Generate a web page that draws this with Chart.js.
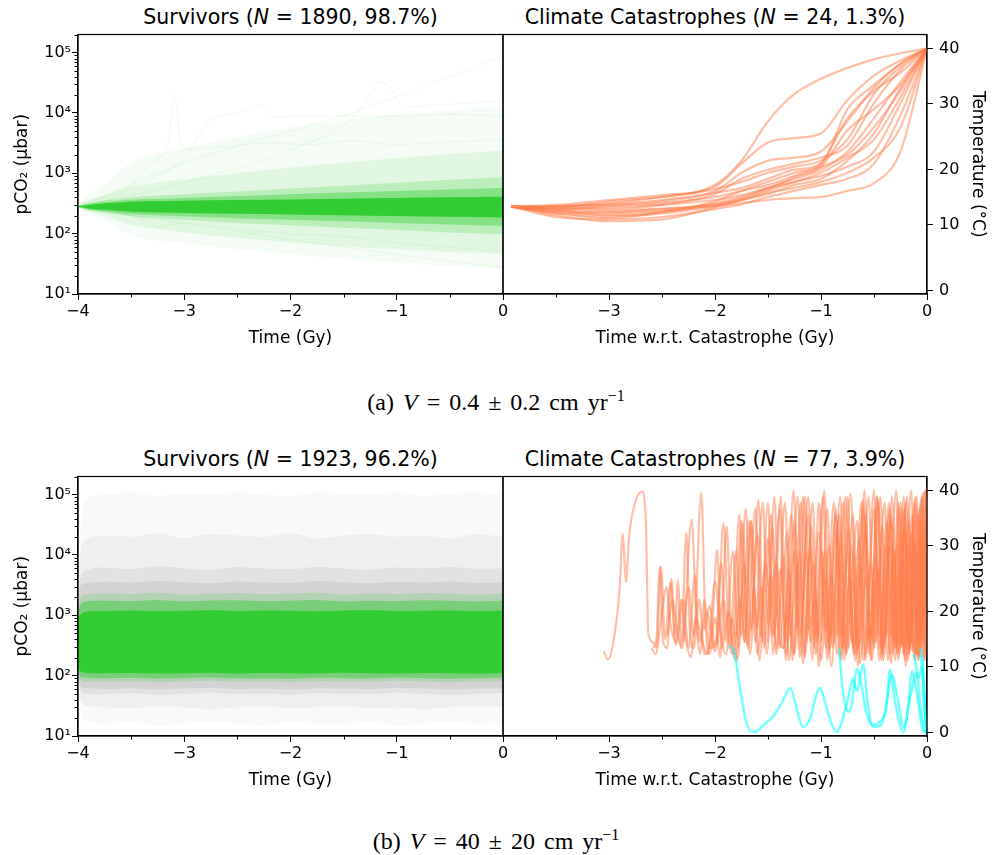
<!DOCTYPE html>
<html lang="en">
<head>
<meta charset="UTF-8">
<title>Survivors and climate catastrophes</title>
<script src="https://cdn.jsdelivr.net/npm/chart.js"></script>
<style>
  body { margin: 0; background: #fff; }
  #fig { position: relative; width: 992px; height: 855px; background: #fff; font-family: 'DejaVu Sans', sans-serif; color: #000; overflow: hidden; }
  #fig canvas { position: absolute; }
  .ttl { position: absolute; font-size: 20.5px; line-height: 24px; text-align: center; white-space: nowrap; }
  .cap { position: absolute; left: 0; width: 992px; text-align: center; font-family: 'Liberation Serif', serif; font-size: 24px; line-height: 28px; word-spacing: 3px; }
  .cap sup { font-size: 16px; }
</style>
</head>
<body>
<div id="fig">
  <div class="ttl" style="left:78px;width:425px;top:5px">Survivors (<i>N</i> = 1890, 98.7%)</div>
  <div class="ttl" style="left:503px;width:424px;top:5px">Climate Catastrophes (<i>N</i> = 24, 1.3%)</div>
  <canvas id="survA" width="515" height="360" style="left:0;top:0"></canvas>
  <canvas id="catA" width="497" height="360" style="left:495px;top:0"></canvas>
  <div class="cap" style="top:382px">(a) <i>V</i> = 0.4 ± 0.2 cm yr<sup>−1</sup></div>

  <div class="ttl" style="left:78px;width:425px;top:447px">Survivors (<i>N</i> = 1923, 96.2%)</div>
  <div class="ttl" style="left:503px;width:424px;top:447px">Climate Catastrophes (<i>N</i> = 77, 3.9%)</div>
  <canvas id="survB" width="515" height="360" style="left:0;top:442px"></canvas>
  <canvas id="catB" width="497" height="360" style="left:495px;top:442px"></canvas>
  <div class="cap" style="top:821px">(b) <i>V</i> = 40 ± 20 cm yr<sup>−1</sup></div>
</div>
<script>
// ---- axes ----
const xTicks = [-4, -3, -2, -1, 0];
const xMinor = [-3.5, -2.5, -1.5, -0.5];
const pTicks = [10, 100, 1000, 10000, 100000];
const pTickLabels = ['10¹', '10²', '10³', '10⁴', '10⁵'];
const tempTickPos = [0, 10.9, 20, 30.9, 40];
const tempTickLabels = ['0', '10', '20', '30', '40'];

// ---- (a) survivors: pCO2 envelope (µbar) ----
const tA = [-4, -3.9, -3.75, -3.5, -3, -2.5, -2, -1.5, -1, -0.5, 0];
const coreLoA = [278, 262, 248, 230, 220, 214, 208, 202, 196, 190, 185];
const coreHiA = [285, 300, 318, 338, 350, 360, 370, 380, 390, 400, 410];
const innerLoA = [277, 252, 235, 212, 195, 180, 170, 160, 150, 142, 135];
const innerHiA = [287, 310, 335, 365, 390, 420, 450, 480, 510, 540, 570];
const midLoA = [276, 245, 225, 195, 170, 150, 138, 125, 115, 105, 98];
const midHiA = [288, 320, 355, 400, 450, 500, 560, 620, 700, 780, 860];
const faintLoA = [274, 230, 200, 140, 105, 85, 72, 62, 55, 50, 46];
const faintHiA = [292, 360, 430, 600, 800, 1000, 1250, 1500, 1800, 2100, 2400];
const vfaintLoA = [272, 215, 170, 95, 70, 55, 46, 38, 33, 29, 26];
const vfaintHiA = [295, 450, 650, 1500, 2600, 4000, 5800, 7500, 9500, 11000, 13000];
// a few stray survivor runs
const stray1 = [-4, 280, -3.6, 450, -3.3, 1500, -3.15, 3500, -3.09, 21000, -3.03, 3000, -2.9, 2500, -2.6, 2800, -2.2, 3200, -1.8, 3000, -1.4, 3500, -1.0, 3000, -0.5, 3300, 0, 3600];
const stray2 = [-4, 280, -3.5, 600, -3, 1800, -2.76, 7500, -2.5, 10000, -2.29, 13500, -2.15, 8700, -1.5, 9000, -1, 8800, -0.5, 9500, 0, 9000];
const stray3 = [-4, 280, -3, 700, -2, 2500, -1.44, 7500, -1.3, 15000, -1.16, 33000, -1.05, 25000, -0.94, 12500, -0.5, 14000, 0, 16000];
const stray4 = [-4, 280, -3, 1500, -2, 5000, -1.5, 9000, -1.03, 18000, -0.5, 40000, 0, 87000];
const stray5 = [-4, 280, -3.5, 200, -3, 150, -2.5, 110, -2, 80, -1.5, 60, -1, 45, -0.5, 35, 0, 28];
const stray6 = [-4, 280, -3.4, 180, -3.25, 130, -3, 150, -2.5, 120, -2, 100, -1.5, 90, -1, 70, -0.5, 60, 0, 50];

// ---- (a) catastrophes: temperature (°C) ----
const tCat = [-3.92, -3.5, -3, -2.5, -2, -1.75, -1.5, -1.25, -1, -0.75, -0.5, -0.25, 0];
const hotA1 = [13.9, 14.0, 14.5, 15.5, 17.5, 21.5, 28.0, 32.5, 35.0, 36.8, 38.2, 39.2, 40];
const hotA2 = [13.9, 14.2, 15.0, 15.8, 17.2, 21.0, 24.5, 25.2, 26.0, 31.5, 35.5, 38.0, 40];
const hotA3 = [13.9, 13.6, 13.5, 14.2, 16.0, 18.5, 20.0, 21.0, 22.0, 24.0, 31.0, 36.5, 40];
const hotA4 = [13.9, 13.3, 12.5, 13.0, 14.8, 16.5, 18.0, 19.5, 21.0, 28.5, 33.0, 36.0, 40];
const hotA5 = [13.9, 12.5, 11.5, 11.8, 13.8, 15.0, 16.5, 18.0, 19.0, 20.5, 23.0, 31.0, 40];
const hotA6 = [13.9, 13.5, 14.0, 14.5, 15.5, 16.5, 17.5, 19.0, 20.5, 22.5, 27.0, 33.0, 40];
const hotA7 = [13.9, 13.2, 13.0, 13.5, 14.0, 14.5, 15.0, 15.3, 15.5, 16.5, 17.8, 23.0, 40];
const hotA8 = [13.9, 12.2, 11.8, 12.2, 13.5, 14.3, 15.5, 16.5, 17.5, 18.5, 21.0, 29.0, 40];
const hotA9 = [13.9, 13.8, 14.8, 15.5, 16.8, 18.0, 19.5, 20.5, 21.5, 25.0, 32.5, 37.0, 40];
const hotA10 = [13.9, 13.7, 13.8, 14.2, 15.0, 15.8, 17.0, 18.5, 20.0, 23.0, 28.5, 34.5, 40];
const hotA11 = [13.9, 12.8, 12.0, 13.0, 14.5, 15.5, 17.0, 18.0, 19.5, 22.0, 25.0, 32.0, 40];
const hotA12 = [13.9, 14.0, 14.3, 15.0, 16.2, 17.0, 18.5, 20.0, 21.0, 30.0, 34.0, 37.5, 40];
const hotA13 = [13.9, 13.4, 13.2, 13.6, 14.3, 15.0, 16.2, 17.0, 18.0, 19.5, 22.0, 27.0, 40];
const hotA14 = [13.9, 13.0, 12.8, 13.2, 14.2, 15.3, 16.8, 18.8, 20.5, 26.5, 30.0, 34.0, 40];
const hotA15 = [13.9, 13.9, 14.2, 14.8, 16.5, 19.5, 21.5, 22.0, 23.0, 28.0, 33.5, 37.5, 40];
const hotA16 = [13.9, 12.9, 12.3, 12.8, 14.0, 15.0, 16.0, 17.5, 18.5, 21.5, 26.0, 33.5, 40];

// ---- (b) survivors: pCO2 envelope (µbar) ----
const tB = [-4, -3.98, -3.93, -3.75, -3.5, -3.25, -3, -2.75, -2.5, -2.25, -2, -1.75, -1.5, -1.25, -1, -0.75, -0.5, -0.25, 0];
const greyFaintLo = [110, 30, 18, 16, 17, 15, 16, 17, 16, 15, 17, 16, 16, 17, 15, 16, 17, 16, 17];
const greyFaintHi = [1300, 15000, 80000, 100000, 110000, 95000, 105000, 100000, 110000, 100000, 95000, 110000, 105000, 100000, 110000, 95000, 105000, 110000, 100000];
const greyMidLo = [120, 45, 32, 30, 29, 31, 30, 28, 30, 31, 29, 30, 31, 29, 30, 28, 30, 31, 30];
const greyMidHi = [1200, 8000, 18000, 21000, 20000, 23000, 19000, 22000, 21000, 20000, 23000, 19000, 21000, 22000, 20000, 21000, 19000, 22000, 20000];
const greyDarkLo = [130, 60, 50, 49, 51, 48, 50, 52, 49, 50, 48, 51, 50, 49, 52, 50, 48, 50, 51];
const greyDarkHi = [1100, 4000, 5500, 6200, 5800, 6500, 6000, 5600, 6300, 6000, 5800, 6400, 6000, 5700, 6200, 6000, 6300, 5900, 6000];
const greyCoreLo = [135, 68, 62, 60, 62, 59, 61, 63, 60, 61, 59, 62, 61, 60, 63, 61, 59, 61, 62];
const greyCoreHi = [1050, 3000, 3400, 3600, 3500, 3700, 3500, 3400, 3650, 3500, 3450, 3700, 3500, 3400, 3600, 3500, 3650, 3450, 3500];
const greenFaintLo = [140, 85, 80, 79, 81, 78, 80, 82, 79, 80, 78, 81, 80, 79, 82, 80, 78, 80, 81];
const greenFaintHi = [1000, 1900, 2200, 2300, 2250, 2400, 2200, 2300, 2350, 2250, 2300, 2400, 2200, 2300, 2250, 2350, 2300, 2200, 2300];
const greenLightLo = [145, 98, 92, 90, 92, 89, 91, 93, 90, 91, 89, 92, 91, 90, 93, 91, 89, 91, 92];
const greenLightHi = [950, 1500, 1700, 1750, 1720, 1800, 1700, 1760, 1780, 1720, 1750, 1800, 1700, 1750, 1720, 1780, 1750, 1700, 1750];
const greenCoreLo = [150, 118, 112, 110, 111, 109, 110, 112, 108, 111, 110, 109, 112, 110, 109, 111, 110, 108, 111];
const greenCoreHi = [900, 1000, 1150, 1180, 1200, 1170, 1190, 1210, 1180, 1200, 1190, 1170, 1200, 1210, 1180, 1190, 1200, 1180, 1190];

// ---- (b) catastrophes: temperature (°C), pairs of [time, temp] ----
const coldB1 = [-1.86,14.4, -1.82,13.5, -1.77,8, -1.72,3, -1.67,0.3, -1.62,0.2, -1.55,1.2, -1.45,2.8, -1.37,5, -1.29,7.4, -1.23,4, -1.17,1, -1.1,2.5, -1.05,6, -1.01,7.5, -0.96,5, -0.9,1.5, -0.85,0.1, -0.8,2, -0.74,6, -0.7,9, -0.66,7, -0.6,11.3, -0.56,5, -0.51,1, -0.44,1.2, -0.38,5, -0.35,10.4, -0.3,5, -0.22,0.1, -0.18,4, -0.14,10.2, -0.1,7, -0.04,0.5, 0,0];
const coldB2 = [-0.83,14, -0.8,8, -0.77,4.5, -0.73,3.5, -0.7,6, -0.66,10.6, -0.62,8, -0.58,4, -0.52,1.3, -0.45,1.8, -0.4,3, -0.33,9.5, -0.28,6, -0.22,1, -0.15,6.5, -0.1,9.8, -0.06,4, -0.02,0.5, 0,0];
const coldB3 = [-0.12,13, -0.08,9, -0.05,11, -0.03,5, 0,0.2];
const coldB4 = [-0.07,14, -0.04,12, -0.02,4, 0,0.5];
const coldB5 = [-0.06,12.8, -0.03,8, -0.01,2, 0,0];

const hotB1 = [-3.05,13.5, -3.01,12.1, -2.96,14.9, -2.9,23.7, -2.87,32.9, -2.84,24.9, -2.81,32.5, -2.75,38.2, -2.69,39.8, -2.65,33.7, -2.63,16.6, -2.58,14.9, -2.55,14.1, -2.51,27.4, -2.47,15.4, -2.42,24.9, -2.37,14.5, -2.3,22, -2.25,14, -2.19,26, -2.15,15, -2.08,20, -2.0,13.5, -1.92,22, -1.86,14, -1.8,30, -1.75,16, -1.68,35, -1.62,15, -1.55,38, -1.5,18, -1.42,28, -1.36,14, -1.28,36, -1.22,17, -1.15,39, -1.1,15, -1.02,33, -0.95,14, -0.88,38, -0.82,16, -0.75,30, -0.68,13, -0.6,37, -0.54,15, -0.47,39, -0.41,14, -0.34,35, -0.28,13, -0.2,38, -0.15,15, -0.08,36, -0.04,20, 0,40];
const hotB2 = [-2.58,14, -2.55,16, -2.52,27.4, -2.49,15, -2.45,14, -2.41,25.5, -2.38,16, -2.35,25.2, -2.32,14, -2.27,33, -2.24,18, -2.2,14, -2.15,22, -2.1,13, -2.03,17, -1.98,30.2, -1.94,14, -1.87,20, -1.82,13, -1.75,35, -1.7,14.5, -1.62,37, -1.57,16, -1.5,32, -1.45,13, -1.38,39, -1.33,15, -1.25,30, -1.2,12.5, -1.12,36, -1.07,14, -0.98,39, -0.93,13, -0.85,34, -0.8,16, -0.72,39.5, -0.66,14, -0.58,33, -0.53,12, -0.46,38, -0.4,15, -0.33,39, -0.28,16, -0.21,34, -0.16,14, -0.1,39, -0.06,17, 0,40];
const hotB3 = [-2.45,16, -2.4,22, -2.36,17, -2.31,14, -2.22,35.2, -2.18,20, -2.14,13, -2.1,22, -2.05,14, -1.98,16, -1.92,34.6, -1.88,20, -1.84,13, -1.77,36, -1.72,15, -1.66,35, -1.6,13, -1.52,28, -1.46,16, -1.39,37, -1.33,13, -1.26,40, -1.2,16, -1.14,30, -1.08,12, -1.02,38, -0.96,17, -0.9,26, -0.85,13, -0.77,39, -0.71,15, -0.64,32, -0.58,13, -0.5,40, -0.45,14, -0.38,31, -0.32,13, -0.25,38, -0.19,15, -0.12,32, -0.07,13, 0,40];
const hotB4 = [-2.3,15, -2.25,24, -2.2,16, -2.13,39.6, -2.09,18, -2.05,13, -2.0,19, -1.95,12.5, -1.89,34, -1.85,17, -1.8,12, -1.74,34.6, -1.69,14, -1.63,24, -1.58,12, -1.5,38, -1.45,16, -1.38,27, -1.33,12, -1.25,35, -1.2,14, -1.12,39, -1.06,16, -0.99,30, -0.94,12, -0.86,36, -0.8,14, -0.73,25, -0.68,12, -0.6,38.5, -0.55,13, -0.48,30, -0.43,12, -0.35,37, -0.3,14, -0.23,29, -0.18,12, -0.11,39, -0.05,15, 0,39];
const hotB5 = [-2.1,17, -2.05,21, -2.0,14, -1.94,28, -1.9,15, -1.83,30, -1.78,14, -1.71,37, -1.66,17, -1.59,38.5, -1.54,14, -1.47,26, -1.42,13, -1.34,38, -1.29,16, -1.22,28, -1.17,11.5, -1.09,34, -1.04,15, -0.97,40, -0.91,16, -0.84,30, -0.78,12, -0.7,36, -0.65,14, -0.57,26, -0.52,12, -0.44,39, -0.39,16, -0.31,30, -0.26,13, -0.19,39, -0.13,14, -0.07,33, -0.03,18, 0,40];
const hotB6 = [-1.8,16, -1.76,22, -1.72,15, -1.66,35, -1.61,17, -1.56,24, -1.51,13, -1.44,39, -1.39,14, -1.32,33, -1.27,12, -1.19,38, -1.14,15, -1.07,28, -1.02,11, -0.94,37, -0.89,14, -0.82,39, -0.76,13, -0.69,30, -0.63,11.5, -0.55,39, -0.5,14, -0.42,34, -0.37,12, -0.29,40, -0.24,15, -0.17,35, -0.12,12, -0.06,38, 0,40];
const hotB8 = [-1.5,15, -1.46,34, -1.41,18, -1.35,14, -1.3,27, -1.25,13, -1.17,39, -1.12,17, -1.05,22, -1.0,12, -0.92,31, -0.87,15, -0.79,38, -0.74,14, -0.66,35, -0.6,12, -0.53,28, -0.48,15, -0.4,38, -0.35,13, -0.28,31, -0.22,13, -0.15,40, -0.1,17, -0.05,27, 0,40];
const hotB9 = [-1.35,16, -1.3,21, -1.26,13, -1.2,30, -1.15,12.5, -1.08,38, -1.03,16, -0.96,25, -0.9,11, -0.83,36, -0.78,14, -0.71,31, -0.66,13, -0.59,40, -0.53,16, -0.46,27, -0.41,12, -0.34,36, -0.29,14, -0.22,39, -0.17,13, -0.11,30, -0.06,14, 0,40];
const hotB11 = [-1.0,15, -0.96,30, -0.92,14, -0.86,22, -0.82,12.5, -0.75,39, -0.7,14, -0.63,28, -0.58,12, -0.5,37, -0.45,16, -0.39,26, -0.34,11.5, -0.27,38, -0.22,13, -0.16,30, -0.11,12, -0.05,39, -0.02,20, 0,40];
const hotB12 = [-0.85,16, -0.81,33, -0.77,13, -0.7,25, -0.65,11, -0.58,36, -0.53,14, -0.47,39, -0.42,13, -0.35,31, -0.3,12, -0.23,37, -0.18,15, -0.12,26, -0.08,12, -0.03,36, 0,40];
const hotB14 = [-0.5,15, -0.46,27, -0.42,13, -0.36,38, -0.31,14, -0.25,33, -0.2,11, -0.14,36, -0.1,13, -0.05,30, -0.02,14, 0,40];
const hotB15 = [-0.35,16, -0.31,30, -0.27,12, -0.21,34, -0.17,14, -0.12,38, -0.08,12, -0.04,32, -0.01,15, 0,40];
const hotB16 = [-0.25,14, -0.21,37, -0.17,13, -0.12,27, -0.08,14, -0.04,39, -0.02,12, 0,40];
const hotB17 = [-0.15,15, -0.12,32, -0.09,13, -0.06,35, -0.03,12, 0,40];
const hotB18 = [-2.6,14, -2.56,13, -2.5,20, -2.46,24, -2.42,18, -2.37,15, -2.32,22, -2.28,16, -2.23,12.5, -2.18,19, -2.12,15, -2.07,13, -2.0,25, -1.95,17, -1.9,13, -1.84,19, -1.79,12, -1.72,28, -1.67,13, -1.6,33, -1.55,15, -1.47,36, -1.42,14, -1.35,29, -1.3,12, -1.22,39, -1.16,13, -1.1,31, -1.05,13, -0.98,27, -0.93,15, -0.86,37, -0.81,12, -0.74,34, -0.69,13, -0.62,38, -0.57,15, -0.5,25, -0.45,12, -0.38,35, -0.33,16, -0.26,37, -0.21,12, -0.14,33, -0.09,17, -0.04,38, 0,40];
// saturated strip right before the catastrophe
const denseT = [-0.3, -0.2, -0.1, -0.05, 0];
const denseLo = [15, 14, 13, 12.5, 12.5];
const denseHi = [25, 30, 36, 38, 41];

// ---- helpers ----
const GREEN = '50,205,50';
const GREY = '128,128,128';
const CORAL_A = 'rgba(255,127,80,0.5)';
const CORAL_B = 'rgba(255,127,80,0.5)';
const CYAN = 'rgba(0,255,255,0.55)';

Chart.defaults.font.family = "'DejaVu Sans', sans-serif";
Chart.defaults.color = '#000';

function series(xs, ys) { return xs.map((x, i) => ({ x: x, y: ys[i] })); }
function pairs(flat) {
  const out = [];
  for (let i = 0; i < flat.length; i += 2) out.push({ x: flat[i], y: flat[i + 1] });
  return out;
}
function band(xs, lo, hi, color) {
  return [
    { data: series(xs, lo), borderColor: 'rgba(0,0,0,0)', fill: false },
    { data: series(xs, hi), borderColor: 'rgba(0,0,0,0)', fill: '-1', backgroundColor: color }
  ];
}
function line(data, color, width) {
  return { data: data, borderColor: color, borderWidth: width, fill: false };
}
function fmt(v) { return v < 0 ? '\u2212' + (-v) : String(v); }

const logMinor = [];
pTicks.forEach(d => { for (let k = 2; k <= 9; k++) if (k * d <= 2e5) logMinor.push(k * d); });

// border on all four sides + minor ticks
const framePlugin = {
  id: 'frame',
  afterDraw(chart, args, opts) {
    const { ctx, chartArea: a, scales } = chart;
    ctx.save();
    ctx.strokeStyle = '#000';
    ctx.lineWidth = 1;
    ctx.beginPath();
    (opts.xMinor || []).forEach(v => {
      const px = Math.round(scales.x.getPixelForValue(v)) + 0.5;
      ctx.moveTo(px, a.bottom); ctx.lineTo(px, a.bottom + 3.5);
    });
    (opts.yMinor || []).forEach(v => {
      const py = Math.round(scales.y.getPixelForValue(v)) + 0.5;
      ctx.moveTo(a.left - 3.5, py); ctx.lineTo(a.left, py);
    });
    ctx.stroke();
    ctx.lineWidth = 1.2;
    ctx.strokeRect(a.left, a.top, a.right - a.left, a.bottom - a.top);
    ctx.restore();
  }
};
Chart.register(framePlugin);

function xScale(title, hideFirst) {
  return {
    type: 'linear', min: -4, max: 0,
    afterBuildTicks: s => { s.ticks = xTicks.map(v => ({ value: v })); },
    ticks: { autoSkip: false, maxRotation: 0, padding: 2, font: { size: 16 },
      callback: v => (hideFirst && v === -4) ? '' : fmt(v) },
    grid: { drawOnChartArea: false, tickLength: 6, color: '#000', lineWidth: 1 },
    border: { color: '#000', width: 1.2 },
    title: { display: true, text: title, font: { size: 17 }, padding: { top: 0, bottom: 11 } },
    afterFit: s => { s.height = 66; }
  };
}

function baseOptions() {
  return {
    responsive: false, animation: false, events: [],
    elements: { point: { radius: 0 }, line: { cubicInterpolationMode: 'monotone' } },
    plugins: { legend: { display: false }, tooltip: { enabled: false } }
  };
}

function survivorChart(id, datasets) {
  const opts = baseOptions();
  opts.layout = { padding: { top: 34.5, right: 12, left: 0, bottom: 0 } };
  opts.plugins.frame = { xMinor: xMinor, yMinor: logMinor };
  opts.scales = {
    x: xScale('Time (Gy)', false),
    y: {
      type: 'logarithmic', min: 10, max: 2e5,
      afterBuildTicks: s => { s.ticks = pTicks.map(v => ({ value: v })); },
      ticks: { autoSkip: false, padding: 1, font: { size: 16 }, callback: (v, i) => pTickLabels[i] },
      grid: { drawOnChartArea: false, tickLength: 6, color: '#000', lineWidth: 1 },
      border: { color: '#000', width: 1.2 },
      title: { display: true, text: 'pCO₂ (μbar)', font: { size: 17 }, padding: { top: 12, bottom: 0 } },
      afterFit: s => { s.width = 78; }
    }
  };
  return new Chart(document.getElementById(id), { type: 'line', data: { datasets: datasets }, options: opts });
}

function catastropheChart(id, datasets) {
  const opts = baseOptions();
  opts.layout = { padding: { top: 34.5, right: 0, left: 8, bottom: 0 } };
  opts.plugins.frame = { xMinor: xMinor };
  opts.scales = {
    x: xScale('Time w.r.t. Catastrophe (Gy)', true),
    y: {
      type: 'linear', position: 'right', min: -0.5, max: 42.3,
      afterBuildTicks: s => { s.ticks = tempTickPos.map(v => ({ value: v })); },
      ticks: { autoSkip: false, padding: 6, font: { size: 16 }, callback: (v, i) => tempTickLabels[i] },
      grid: { drawOnChartArea: false, tickLength: 6, color: '#000', lineWidth: 1 },
      border: { color: '#000', width: 1.2 },
      title: { display: true, text: 'Temperature (°C)', font: { size: 17 }, padding: { top: 4, bottom: 0 } },
      afterFit: s => { s.width = 65; }
    }
  };
  return new Chart(document.getElementById(id), { type: 'line', data: { datasets: datasets }, options: opts });
}

// ---- (a) ----
const strayA = [stray1, stray2, stray3, stray4, stray5, stray6]
  .map(s => line(pairs(s), 'rgba(' + GREEN + ',0.06)', 1.5));
survivorChart('survA', [].concat(
  band(tA, coreLoA, coreHiA, 'rgb(' + GREEN + ')'),
  band(tA, innerLoA, innerHiA, 'rgba(' + GREEN + ',0.4)'),
  band(tA, midLoA, midHiA, 'rgba(' + GREEN + ',0.22)'),
  band(tA, faintLoA, faintHiA, 'rgba(' + GREEN + ',0.1)'),
  band(tA, vfaintLoA, vfaintHiA, 'rgba(' + GREEN + ',0.05)'),
  strayA
));

const hotA = [hotA1, hotA2, hotA3, hotA4, hotA5, hotA6, hotA7, hotA8, hotA9, hotA10, hotA11, hotA12, hotA13, hotA14, hotA15, hotA16];
catastropheChart('catA', hotA.map(c => line(series(tCat, c), CORAL_A, 2.2)));

// ---- (b) ----
survivorChart('survB', [].concat(
  band(tB, greenCoreLo, greenCoreHi, 'rgb(' + GREEN + ')'),
  band(tB, greenLightLo, greenLightHi, 'rgba(' + GREEN + ',0.45)'),
  band(tB, greenFaintLo, greenFaintHi, 'rgba(' + GREEN + ',0.2)'),
  band(tB, greyCoreLo, greyCoreHi, 'rgba(' + GREY + ',0.15)'),
  band(tB, greyDarkLo, greyDarkHi, 'rgba(' + GREY + ',0.12)'),
  band(tB, greyMidLo, greyMidHi, 'rgba(' + GREY + ',0.09)'),
  band(tB, greyFaintLo, greyFaintHi, 'rgba(' + GREY + ',0.05)')
));

const coldB = [coldB1, coldB2, coldB3, coldB4, coldB5];
const hotB = [hotB1, hotB2, hotB3, hotB4, hotB5, hotB6, hotB8, hotB9, hotB11, hotB12, hotB14, hotB15, hotB16, hotB17, hotB18];
catastropheChart('catB', [].concat(
  coldB.map(c => line(pairs(c), CYAN, 2.5)),
  hotB.map(c => line(pairs(c), CORAL_B, 2.2)),
  band(denseT, denseLo, denseHi, 'rgba(255,127,80,0.45)')
));
</script>
</body>
</html>
